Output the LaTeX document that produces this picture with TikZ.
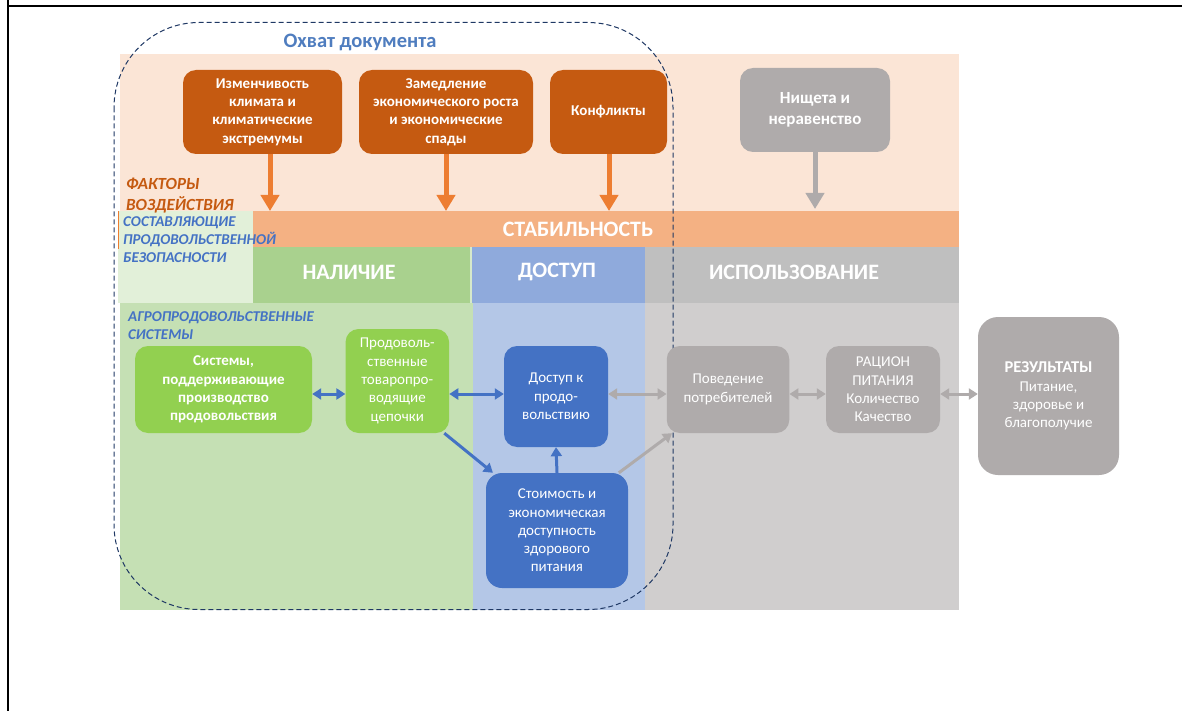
\documentclass[tikz,border=0pt]{standalone}
\usepackage{fontspec}
\setmainfont{Carlito}
\usetikzlibrary{arrows.meta}
\definecolor{peach}{HTML}{FBE5D6}
\definecolor{stab}{HTML}{F4B183}
\definecolor{obox}{HTML}{C55A11}
\definecolor{oarr}{HTML}{ED7D31}
\definecolor{lgreen}{HTML}{E2F0D9}
\definecolor{nalh}{HTML}{A9D18E}
\definecolor{greenlow}{HTML}{C5E0B4}
\definecolor{dosth}{HTML}{8FAADC}
\definecolor{bluelow}{HTML}{B4C7E7}
\definecolor{useh}{HTML}{BFBFBF}
\definecolor{graylow}{HTML}{D0CECE}
\definecolor{gbox}{HTML}{AFABAB}
\definecolor{grbox}{HTML}{92D050}
\definecolor{bbox}{HTML}{4472C4}
\definecolor{scopeblue}{HTML}{4F7DBF}
\definecolor{navy}{HTML}{1F3864}
\tikzset{
  box/.style={rounded corners=13, text=white, align=center, inner sep=1pt,
    font=\fontsize{15}{18.3}\selectfont},
  boldbox/.style={box, font=\fontsize{15}{18.3}\selectfont\bfseries},
  hdr/.style={text=white, font=\fontsize{22}{24}\selectfont\bfseries, inner sep=0pt},
  sidelabel/.style={anchor=north west, align=left, inner sep=0pt,
    font=\fontsize{15}{18.2}\selectfont\bfseries\itshape},
  oarrow/.style={draw=oarr, line width=5pt, -{Triangle[width=18pt,length=16pt]}},
  garrow/.style={draw=gbox, line width=5pt, -{Triangle[width=18pt,length=16pt]}},
  barrow/.style={draw=bbox, line width=3pt, -{Triangle[width=11pt,length=9pt]}},
  bdarrow/.style={draw=bbox, line width=3pt, {Triangle[width=11pt,length=9pt]}-{Triangle[width=11pt,length=9pt]}},
  gdarrow/.style={draw=gbox, line width=3pt, {Triangle[width=11pt,length=9pt]}-{Triangle[width=11pt,length=9pt]}},
  gsarrow/.style={draw=gbox, line width=3pt, -{Triangle[width=11pt,length=9pt]}},
}
\begin{document}
\begin{tikzpicture}[x=1pt,y=-1pt]
\useasboundingbox (0,0) rectangle (1182,711);
\fill[white] (0,0) rectangle (1182,711);
% page frame
\draw[line width=1.6pt] (8,0) -- (8,711);
\draw[line width=1.6pt] (8,6) -- (1182,6);
% panels
\fill[peach] (120,54) rectangle (959,211);
\fill[stab] (253,211) rectangle (959,247);
\fill[lgreen] (118,211) rectangle (253,303);
\draw[oarr, line width=0.8pt] (118,211) -- (118,249);
\fill[nalh] (253,247) rectangle (470,302.5);
\fill[greenlow!70!white] (470,247) rectangle (472,302.5);
\fill[dosth] (472,247) rectangle (645,302.5);
\fill[useh] (645,247) rectangle (959,302.5);
\fill[greenlow] (120,303) rectangle (473,610);
\fill[bluelow] (473,303) rectangle (645,610);
\fill[graylow] (645,303) rectangle (959,610);
% headers
\node[hdr] (stabt) at (578,229) {СТАБИЛЬНОСТЬ};
\node[hdr] (nal) at (349,272) {НАЛИЧИЕ};
\node[hdr] (dost) at (557,272) {ДОСТУП};
\node[hdr] (isp) at (794,272) {ИСПОЛЬЗОВАНИЕ};
% side labels
\node[sidelabel, text=obox, font=\fontsize{17}{20.5}\selectfont\bfseries\itshape] (fact) at (126,178) {ФАКТОРЫ\\ВОЗДЕЙСТВИЯ};
\node[sidelabel, text=bbox] (sost) at (123,216) {СОСТАВЛЯЮЩИЕ\\ПРОДОВОЛЬСТВЕННОЙ\\БЕЗОПАСНОСТИ};
\node[sidelabel, text=bbox] (agro) at (128,311) {АГРОПРОДОВОЛЬСТВЕННЫЕ\\СИСТЕМЫ};
% factor boxes
\node[boldbox, fill=obox, minimum width=159pt, minimum height=84pt] (clim) at (262.5,112) {Изменчивость\\климата и\\климатические\\экстремумы};
\node[boldbox, fill=obox, minimum width=174pt, minimum height=84pt] (econ) at (446,112) {Замедление\\экономического роста\\и экономические\\спады};
\node[boldbox, fill=obox, minimum width=117pt, minimum height=84pt] (conf) at (608.5,112) {Конфликты};
\node[boldbox, fill=gbox, minimum width=150pt, minimum height=84pt, font=\fontsize{17}{20.5}\selectfont\bfseries] (pov) at (815,110) {Нищета и\\неравенство};
\coordinate (s1) at (270,211);
\coordinate (s2) at (446,211);
\coordinate (s3) at (609,211);
\coordinate (s4) at (815,209);
\draw[oarrow] (clim.south -| s1) -- (s1);
\draw[oarrow] (econ.south -| s2) -- (s2);
\draw[oarrow] (conf.south -| s3) -- (s3);
\draw[garrow] (pov.south -| s4) -- (s4);
% scope
\draw[navy, line width=1pt, dash pattern=on 5pt off 3pt, rounded corners=85] (114,22.5) rectangle (673,609.5);
\node[text=scopeblue, font=\fontsize{20.5}{24}\selectfont\bfseries, inner sep=0pt] (scope) at (360,42) {Охват документа};
% system boxes
\node[boldbox, fill=grbox, minimum width=177pt, minimum height=87pt] (sys) at (223.5,389.5) {Системы,\\поддерживающие\\производство\\продовольствия};
\node[box, fill=grbox, minimum width=103.5pt, minimum height=104pt] (chain) at (397.3,381) {Продоволь-\\ственные\\товаропро-\\водящие\\цепочки};
\node[box, fill=bbox, minimum width=104pt, minimum height=101pt] (acc) at (556,396.5) {Доступ к\\продо-\\вольствию};
\node[box, fill=bbox, minimum width=142pt, minimum height=115pt, rounded corners=16] (cost) at (557,530.5) {Стоимость и\\экономическая\\доступность\\здорового\\питания};
\node[box, fill=gbox, minimum width=122.5pt, minimum height=87pt] (beh) at (728,389.5) {Поведение\\потребителей};
\node[box, fill=gbox, minimum width=114pt, minimum height=87pt] (diet) at (883,389.5) {РАЦИОН\\ПИТАНИЯ\\Количество\\Качество};
\node[box, fill=gbox, minimum width=141pt, minimum height=158pt, rounded corners=20] (res) at (1048.5,396) {{\fontsize{16.5}{18.3}\selectfont\bfseries РЕЗУЛЬТАТЫ}\\Питание,\\здоровье и\\благополучие};
% connectors
\draw[bdarrow] (sys.east |- 0,394) -- (chain.west |- 0,394);
\draw[bdarrow] (chain.east |- 0,394) -- (acc.west |- 0,394);
\draw[barrow] (chain.-48.7) -- (cost.138.1);
\draw[barrow] (cost.north) -- (acc.south);
\draw[gdarrow] (acc.east |- 0,394) -- (beh.west |- 0,394);
\draw[gsarrow] (cost.43.3) -- (beh.-142.2);
\draw[gdarrow] (beh.east |- 0,394) -- (diet.west |- 0,394);
\draw[gdarrow] (diet.east |- 0,394) -- (res.west |- 0,394);
\end{tikzpicture}
\end{document}
